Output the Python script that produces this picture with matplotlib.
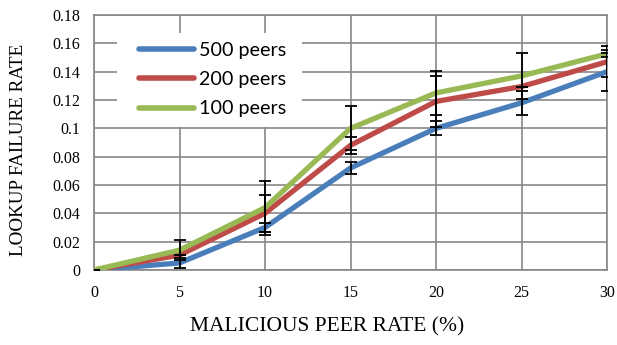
import matplotlib
matplotlib.use('Agg')
import matplotlib.pyplot as plt
from matplotlib.patches import Rectangle
from matplotlib.ticker import FuncFormatter

#------data------
malicious_rate = [0, 5, 10, 15, 20, 25, 30]

fail_500 = [0, 0.005, 0.030, 0.072, 0.100, 0.118, 0.140]
fail_200 = [0, 0.0105, 0.040, 0.088, 0.119, 0.1295, 0.147]
fail_100 = [0, 0.014, 0.044, 0.100, 0.125, 0.137, 0.1526]

err_500 = [0, 0.0034, 0.003, 0.0045, 0.005, 0.0085, 0.0135]
err_200 = [0, 0, 0.013, 0.006, 0.018, 0, 0.011]
err_100 = [0, 0.007, 0.019, 0.0155, 0.0155, 0.016, 0.0025]

series = [('500 peers', fail_500, err_500, '#4a7ebb'),
          ('200 peers', fail_200, err_200, '#be4b48'),
          ('100 peers', fail_100, err_100, '#98b954')]

#------figure------
W, H = 617, 345
fig = plt.figure(figsize=(W / 100, H / 100), dpi=100)
ax = fig.add_axes([94 / W, 1 - 270 / H, (607 - 94) / W, (270 - 15) / H])

serif = ['Liberation Serif', 'DejaVu Serif']
grid_c = '#878787'

for name, vals, err, col in series:
    ax.plot(malicious_rate, vals, color=col, lw=3.8, label=name,
            solid_capstyle='round', zorder=3)
    ax.errorbar(malicious_rate, vals, yerr=err, fmt='none', ecolor='black',
                elinewidth=1.3, capsize=4.3, capthick=1.3, zorder=4)

ax.set_xlim(0, 30)
ax.set_ylim(0, 0.18)
ax.set_xticks(range(0, 31, 5))
ax.set_yticks([i * 0.02 for i in range(10)])
ax.yaxis.set_major_formatter(FuncFormatter(lambda v, p: '{:g}'.format(round(v, 2))))
ax.grid(True, color=grid_c, lw=1.2, zorder=0)
ax.set_axisbelow(True)
for s in ax.spines.values():
    s.set_color(grid_c)
    s.set_linewidth(1.2)
ax.tick_params(length=0, labelsize=11.5)
ax.tick_params(axis='x', pad=11)
ax.tick_params(axis='y', pad=10)
for lab in ax.get_xticklabels() + ax.get_yticklabels():
    lab.set_family(serif)

# axis titles are centred on the chart area, not the plot area
ax.set_xlabel('MALICIOUS PEER RATE (%)', family=serif, fontsize=15.5)
ax.xaxis.set_label_coords((327 - 94) / 513, -(317 - 270) / 255)
ax.set_ylabel('LOOKUP FAILURE RATE', family=serif, fontsize=13.7)
ax.yaxis.set_label_coords(-(94 - 27) / 513, (270 - 150) / 255)

# white box behind the legend hides the grid
x0, y0 = (117 - 94) / 513, (270 - 127) / 255
bw, bh = (302 - 117) / 513, (127 - 33) / 255
ax.add_patch(Rectangle((x0, y0), bw, bh, transform=ax.transAxes,
                       facecolor='white', edgecolor='none', zorder=2))

leg = ax.legend(loc='upper left', bbox_to_anchor=((139 - 94) / 513, (270 - 42) / 255),
                frameon=False, borderaxespad=0, borderpad=0, handlelength=2.8,
                handletextpad=0.25, labelspacing=0.62,
                prop={'family': 'Lato', 'size': 14.2})
for h in leg.get_lines():
    h.set_linewidth(4)
    h.set_solid_capstyle('round')

fig.savefig('out.png', dpi=100)
